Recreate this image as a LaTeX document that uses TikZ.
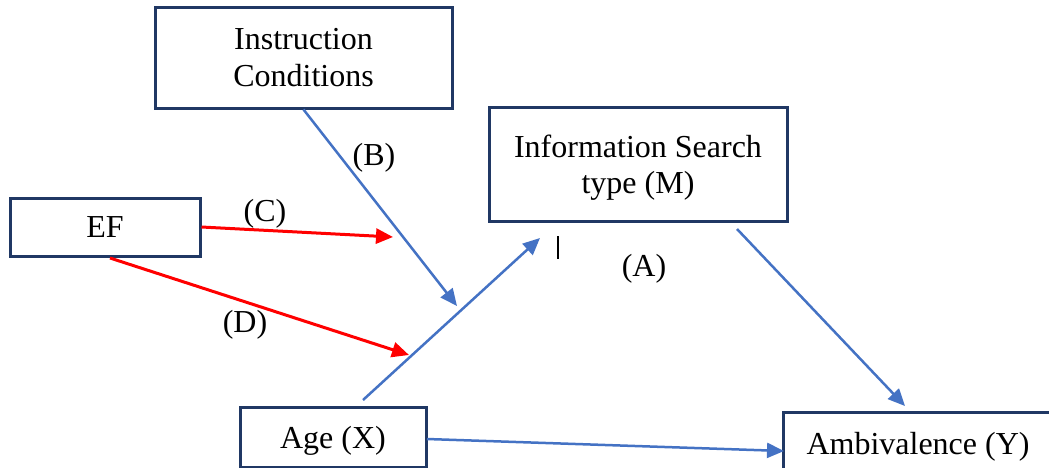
\documentclass[tikz,border=0pt]{standalone}
\usepackage{fontspec}
\setmainfont{Liberation Serif}
\usetikzlibrary{arrows.meta}
\definecolor{boxline}{HTML}{203864}
\definecolor{linkblue}{HTML}{4472C4}
\definecolor{linkred}{HTML}{FF0000}
\tikzset{
  box/.style={draw=boxline, line width=3pt, fill=white, inner sep=0pt,
    align=center, text depth=0pt, font=\fontsize{32}{36.5}\selectfont},
  lbl/.style={inner sep=0pt, font=\fontsize{32}{36}\selectfont},
  tip/.style={-{Triangle[length=17pt,width=15pt]}},
  bluelink/.style={tip, draw=linkblue, line width=2.5pt},
  redlink/.style={tip, draw=linkred, line width=3pt},
}
\begin{document}
\begin{tikzpicture}[x=1pt, y=-1pt]
\clip (0,0) rectangle (1049,467);
\fill[white] (0,0) rectangle (1049,467);

% variables
\node[box, minimum width=297pt, minimum height=101pt] (ic) at (303.5,57.5)
  {Instruction\\Conditions};
\node[box, minimum width=298pt, minimum height=114pt] (ism) at (638,164)
  {Information Search\\type (M)};
\node[box, minimum width=190pt, minimum height=58pt] (ef) at (105,227) {EF};
\node[box, minimum width=186pt, minimum height=60pt] (age) at (333,437) {Age (X)};
\node[box, minimum width=270pt, minimum height=62pt] (amb) at (918,443) {Ambivalence (Y)};

% free ends of the links
\coordinate (bTip) at (457,306);
\coordinate (cTip) at (393,237);
\coordinate (dStart) at (110,258);
\coordinate (dTip) at (409,355);
\coordinate (aStart) at (363,400);
\coordinate (aTip) at (540,238);
\coordinate (mStart) at (737,229);
\coordinate (yTip) at (905,406);
\coordinate (xStart) at (427,439);
\coordinate (xTip) at (784,451);
\coordinate (barTop) at (558,236);
\coordinate (barBot) at (558,259);

% links
\draw[bluelink] (ic.south) -- (bTip);
\draw[redlink] (ef.east) -- (cTip);
\draw[redlink] (dStart) -- (dTip);
\draw[bluelink] (aStart) -- (aTip);
\draw[bluelink] (mStart) -- (yTip);
\draw[bluelink] (xStart) -- (xTip);
\draw[line width=2.5pt, black] (barTop) -- (barBot);

% path labels
\node[lbl] (labA) at (644,269) {(A)};
\node[lbl] (labB) at (374,158) {(B)};
\node[lbl] (labC) at (265,214) {(C)};
\node[lbl] (labD) at (245,325) {(D)};
\end{tikzpicture}
\end{document}
